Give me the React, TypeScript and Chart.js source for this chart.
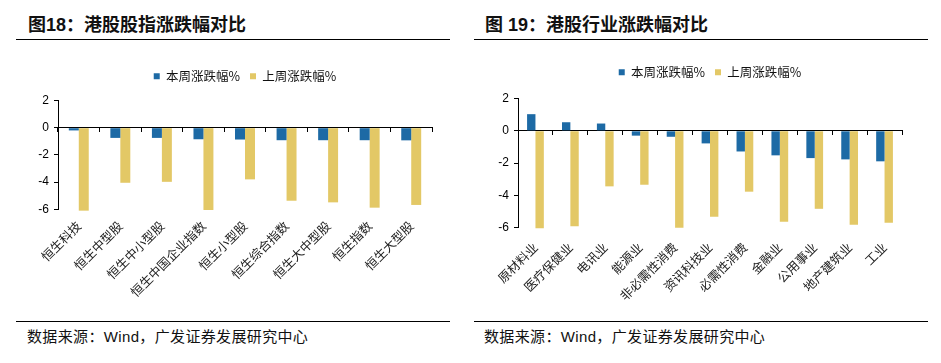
import React, { useEffect, useRef } from "react";
import { Chart, registerables } from "chart.js";

Chart.register(...registerables);

// ---------- data ----------
const seriesNames = ["本周涨跌幅%", "上周涨跌幅%"];

const indexCategories = [
  "恒生科技",
  "恒生中型股",
  "恒生中小型股",
  "恒生中国企业指数",
  "恒生小型股",
  "恒生综合指数",
  "恒生大中型股",
  "恒生指数",
  "恒生大型股",
];
const indexThisWeek = [-0.2, -0.75, -0.75, -0.85, -0.87, -0.92, -0.92, -0.92, -0.93];
const indexLastWeek = [-6.1, -4.05, -3.98, -6.05, -3.8, -5.37, -5.49, -5.88, -5.68];

const sectorCategories = [
  "原材料业",
  "医疗保健业",
  "电讯业",
  "能源业",
  "非必需性消费",
  "资讯科技业",
  "必需性消费",
  "金融业",
  "公用事业",
  "地产建筑业",
  "工业",
];
const sectorThisWeek = [1.03, 0.53, 0.45, -0.3, -0.37, -0.78, -1.28, -1.52, -1.69, -1.77, -1.89];
const sectorLastWeek = [-6.03, -5.91, -3.44, -3.34, -6.0, -5.32, -3.77, -5.63, -4.83, -5.82, -5.7];

const yMin = -6;
const yMax = 2;
const yStep = 2;

const titles = ["图18：港股股指涨跌幅对比", "图 19：港股行业涨跌幅对比"];
const sourceNote = "数据来源：Wind，广发证券发展研究中心";

// ---------- styles ----------
const BLUE = "#1D6AA5";
const YELLOW = "#E3C866";
const CJK = '"Noto Sans CJK SC", sans-serif';
const LATIN = '"Liberation Sans", Arial, sans-serif';

type PanelProps = {
  categories: string[];
  a: number[];
  b: number[];
  left: number;
  top: number;
  width: number;
  height: number;
  padTop: number;
  padRight: number;
  legendExtra: number;
  xLabelHeight: number;
  xLabelPad: number;
};

function BarPanel(p: PanelProps) {
  const ref = useRef<HTMLCanvasElement | null>(null);
  useEffect(() => {
    if (!ref.current) return;
    const legendGap = {
      id: "legendGap",
      beforeInit(chart: any) {
        const lg = chart.legend;
        if (!lg) return;
        const orig = lg.fit;
        lg.fit = function () {
          orig.call(this);
          this.height += p.legendExtra;
        };
      },
    };
    const chart = new Chart(ref.current, {
      type: "bar",
      data: {
        labels: p.categories,
        datasets: [
          {
            label: seriesNames[0],
            data: p.a,
            backgroundColor: BLUE,
            xAxisID: "x",
            categoryPercentage: 0.48,
            barPercentage: 1,
            clip: false as any,
          },
          {
            label: seriesNames[1],
            data: p.b,
            backgroundColor: YELLOW,
            xAxisID: "x",
            categoryPercentage: 0.48,
            barPercentage: 1,
            clip: false as any,
          },
        ],
      },
      options: {
        responsive: false,
        animation: false,
        layout: { padding: { top: p.padTop, right: p.padRight, bottom: 0, left: 0 } },
        plugins: {
          legend: {
            position: "top",
            align: "center",
            fullSize: false,
            labels: {
              boxWidth: 6,
              boxHeight: 6,
              padding: 10,
              color: "#111",
              font: { family: CJK, size: 12.5 },
            },
          },
          tooltip: { enabled: false },
        },
        scales: {
          x: {
            type: "category",
            position: { y: 0 } as any,
            offset: true,
            grid: {
              display: true,
              offset: true,
              drawOnChartArea: false,
              drawTicks: true,
              tickLength: 4,
              color: "#000",
            },
            border: { display: true, color: "#000", width: 1 },
            ticks: { display: false },
          },
          x2: {
            type: "category",
            position: "bottom",
            labels: p.categories,
            offset: true,
            grid: { display: false, drawTicks: false },
            border: { display: false },
            ticks: {
              autoSkip: false,
              minRotation: 45,
              maxRotation: 45,
              padding: p.xLabelPad,
              color: "#222",
              font: { family: CJK, size: 12.5 },
            },
            afterFit(s: any) {
              s.height = p.xLabelHeight;
            },
          },
          y: {
            min: yMin,
            max: yMax,
            ticks: {
              stepSize: yStep,
              color: "#000",
              padding: 5,
              font: { family: LATIN, size: 12 },
            },
            grid: {
              drawOnChartArea: false,
              drawTicks: true,
              tickLength: 4,
              color: "#000",
            },
            border: { display: true, color: "#000", width: 1 },
            afterFit(s: any) {
              s.width = 48;
            },
          },
        },
      },
      plugins: [legendGap],
    });
    return () => chart.destroy();
  }, []);
  return (
    <canvas
      ref={ref}
      width={p.width}
      height={p.height}
      style={{ position: "absolute", left: p.left, top: p.top, width: p.width, height: p.height }}
    />
  );
}

function Frame({ ruleLeft, ruleWidth, textLeft, title }: { ruleLeft: number; ruleWidth: number; textLeft: number; title: string }) {
  return (
    <>
      <div
        style={{
          position: "absolute",
          left: textLeft,
          top: 15,
          fontFamily: `"Liberation Sans", ${CJK}`,
          fontWeight: 700,
          fontSize: 18,
          lineHeight: "20px",
          color: "#111",
          whiteSpace: "nowrap",
        }}
      >
        {title}
      </div>
      <div style={{ position: "absolute", left: ruleLeft, top: 39, width: ruleWidth, height: 1, background: "#000" }} />
      <div style={{ position: "absolute", left: ruleLeft, top: 321, width: ruleWidth, height: 1, background: "#000" }} />
      <div
        style={{
          position: "absolute",
          left: textLeft - 1,
          top: 328,
          fontFamily: `"Liberation Sans", ${CJK}`,
          fontSize: 15,
          letterSpacing: "0.35px",
          lineHeight: "18px",
          color: "#111",
          whiteSpace: "nowrap",
        }}
      >
        {sourceNote}
      </div>
    </>
  );
}

export default function App() {
  return (
    <div style={{ position: "fixed", left: 0, top: 0, width: 941, height: 363, background: "#fff", overflow: "hidden" }}>
      <Frame ruleLeft={16} ruleWidth={434} textLeft={28} title={titles[0]} />
      <Frame ruleLeft={474} ruleWidth={454} textLeft={485} title={titles[1]} />
      <BarPanel
        categories={indexCategories}
        a={indexThisWeek}
        b={indexLastWeek}
        left={10}
        top={50}
        width={460}
        height={270}
        padTop={10}
        padRight={38}
        legendExtra={8}
        xLabelHeight={110.7}
        xLabelPad={9}
      />
      <BarPanel
        categories={sectorCategories}
        a={sectorThisWeek}
        b={sectorLastWeek}
        left={470}
        top={50}
        width={467}
        height={270}
        padTop={6}
        padRight={35}
        legendExtra={10}
        xLabelHeight={92.3}
        xLabelPad={12}
      />
    </div>
  );
}
